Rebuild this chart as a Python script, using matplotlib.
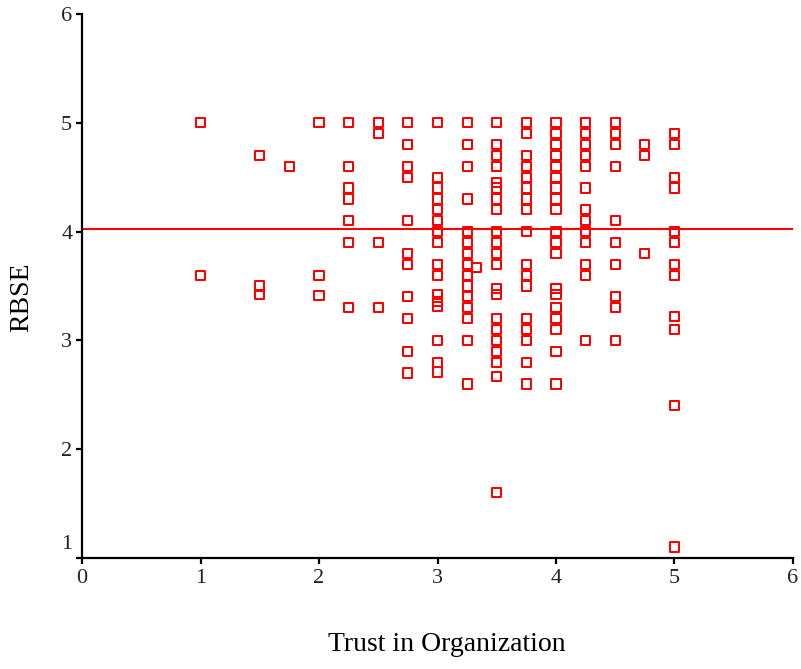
import matplotlib
matplotlib.use("Agg")
import matplotlib.pyplot as plt
from matplotlib.transforms import ScaledTranslation

# RBSE scores grouped by Trust in Organization level
rbse_1 = [5.0, 3.6]
rbse_150 = [4.7, 3.5, 3.42]
rbse_175 = [4.6]
rbse_2 = [5.0, 3.6, 3.41]
rbse_225 = [5.0, 4.6, 4.4, 4.3, 4.1, 3.9, 3.3]
rbse_250 = [5.0, 4.9, 3.9, 3.3]
rbse_275 = [5.0, 4.8, 4.6, 4.5, 4.1, 3.8, 3.7, 3.4, 3.2, 2.9, 2.7]
rbse_3 = [5.0, 4.5, 4.4, 4.3, 4.2, 4.1, 4.0, 3.9, 3.7, 3.6, 3.42, 3.36,
          3.31, 3.0, 2.8, 2.71]
rbse_325 = [5.0, 4.8, 4.6, 4.3, 4.0, 3.9, 3.8, 3.7, 3.6, 3.5, 3.4, 3.3,
            3.2, 3.0, 2.6]
rbse_333 = [3.67]
rbse_350 = [5.0, 4.8, 4.7, 4.6, 4.45, 4.4, 4.3, 4.2, 4.0, 3.9, 3.8, 3.7,
            3.48, 3.42, 3.2, 3.1, 3.0, 2.9, 2.8, 2.67, 1.6]
rbse_375 = [5.0, 4.9, 4.7, 4.6, 4.5, 4.4, 4.3, 4.2, 4.0, 3.7, 3.6, 3.5,
            3.2, 3.1, 3.0, 2.8, 2.6]
rbse_4 = [5.0, 4.9, 4.8, 4.7, 4.6, 4.5, 4.4, 4.3, 4.2, 4.0, 3.9, 3.8,
          3.48, 3.42, 3.3, 3.2, 3.1, 2.9, 2.6]
rbse_425 = [5.0, 4.9, 4.8, 4.7, 4.6, 4.4, 4.2, 4.1, 4.0, 3.9, 3.7, 3.6, 3.0]
rbse_450 = [5.0, 4.9, 4.8, 4.6, 4.1, 3.9, 3.7, 3.4, 3.3, 3.0]
rbse_475 = [4.8, 4.7, 3.8]
rbse_5 = [4.9, 4.8, 4.5, 4.4, 4.0, 3.9, 3.7, 3.6, 3.22, 3.1, 2.4, 1.1]

# Trust levels, one per group above
trust_levels = [1.0, 1.5, 1.75, 2.0, 2.25, 2.5, 2.75, 3.0, 3.25, 3.33,
                3.5, 3.75, 4.0, 4.25, 4.5, 4.75, 5.0]
rbse_groups = [rbse_1, rbse_150, rbse_175, rbse_2, rbse_225, rbse_250,
               rbse_275, rbse_3, rbse_325, rbse_333, rbse_350, rbse_375,
               rbse_4, rbse_425, rbse_450, rbse_475, rbse_5]

# Reference line for RBSE
rbse_mean = 4.02

x_ticks = [0, 1, 2, 3, 4, 5, 6]
y_ticks = [1, 2, 3, 4, 5, 6]

trust, rbse = [], []
for level, group in zip(trust_levels, rbse_groups):
    trust.extend([level] * len(group))
    rbse.extend(group)

plt.rcParams["font.family"] = ["Liberation Serif", "DejaVu Serif"]

fig = plt.figure(figsize=(8.01, 6.69), dpi=100)
ax = fig.add_axes([0.1024, 0.166, 0.8876, 0.813])

red = "#ff0000"
ax.scatter(trust, rbse, marker="s", s=44, facecolors="none",
           edgecolors=red, linewidths=1.45, clip_on=False, zorder=3)
ax.axhline(rbse_mean, color=red, linewidth=1.5, zorder=2)

ax.set_xlim(0, 6)
ax.set_ylim(1, 6)
ax.set_xticks(x_ticks)
ax.set_xticklabels([str(t) for t in x_ticks])
ax.set_yticks(y_ticks)
# the lowest y label is drawn separately, lifted so it clears the x-axis "0"
ax.set_yticklabels([""] + [str(t) for t in y_ticks[1:]])
low = ax.text(-0.0135, y_ticks[0], str(y_ticks[0]), ha="right", va="center",
              fontsize=16, color="#222222")
low.set_transform(ax.get_yaxis_transform()
                  + ScaledTranslation(0, 13 / 100, fig.dpi_scale_trans))

for side in ("top", "right"):
    ax.spines[side].set_visible(False)
for side in ("left", "bottom"):
    ax.spines[side].set_linewidth(1.6)
    ax.spines[side].set_color("black")

ax.tick_params(axis="both", direction="out", length=4, width=1.6,
               labelsize=16, labelcolor="#222222")
ax.tick_params(axis="x", pad=4)
ax.tick_params(axis="y", pad=3)

ax.set_xlabel("Trust in Organization", fontsize=20)
ax.set_ylabel("RBSE", fontsize=20)
ax.xaxis.set_label_coords(0.513, -0.137)
ax.yaxis.set_label_coords(-0.0675, 0.48)

fig.savefig("out.png", dpi=100)
